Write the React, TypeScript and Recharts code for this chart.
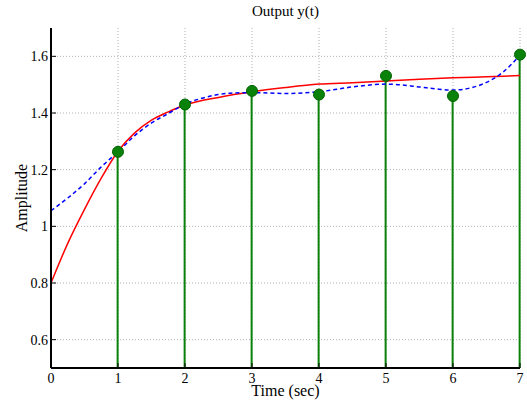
import React from 'react';
import {
  ComposedChart,
  Line,
  Bar,
  XAxis,
  YAxis,
  CartesianGrid,
  Label,
} from 'recharts';

// model output (red, solid)
const modelT = [0, 0.25, 0.5, 0.75, 1, 1.25, 1.5, 1.75, 2, 2.5, 3, 3.5, 4, 4.5, 5, 5.5, 6, 6.5, 7];
const modelY = [0.8, 0.94, 1.06, 1.17, 1.265, 1.33, 1.375, 1.404, 1.428, 1.455, 1.475, 1.49, 1.502, 1.507, 1.513, 1.519, 1.524, 1.528, 1.532];

// interpolated output (blue, dashed)
const interpT = [0, 0.25, 0.5, 0.75, 1, 1.25, 1.5, 1.75, 2, 2.25, 2.5, 2.75, 3, 3.5, 4, 4.5, 5, 5.5, 5.75, 6, 6.25, 6.5, 6.75, 7];
const interpY = [1.055, 1.1, 1.15, 1.21, 1.263, 1.32, 1.365, 1.398, 1.431, 1.452, 1.465, 1.471, 1.472, 1.469, 1.475, 1.492, 1.502, 1.492, 1.485, 1.481, 1.488, 1.508, 1.545, 1.604];

// samples (green stems)
const sampleT = [1, 2, 3, 4, 5, 6, 7];
const sampleY = [1.263, 1.43, 1.478, 1.465, 1.531, 1.46, 1.606];

const xTicks = [0, 1, 2, 3, 4, 5, 6, 7];
const yTicks = [0.6, 0.8, 1, 1.2, 1.4, 1.6];

type Row = { t: number; model?: number; interp?: number; sample?: number };

const buildRows = (): Row[] => {
  const map = new Map<number, Row>();
  const get = (t: number) => {
    if (!map.has(t)) map.set(t, { t });
    return map.get(t)!;
  };
  modelT.forEach((t, i) => (get(t).model = modelY[i]));
  interpT.forEach((t, i) => (get(t).interp = interpY[i]));
  sampleT.forEach((t, i) => (get(t).sample = sampleY[i]));
  return Array.from(map.values()).sort((a, b) => a.t - b.t);
};

const rows = buildRows();
const font = '"Liberation Serif", "DejaVu Serif", serif';
const tickStyle = { fontSize: 14, fontFamily: font, fill: '#000' };
const labelStyle = { fontSize: 16, fontFamily: font, fill: '#000' };

const App: React.FC = () => {
  return (
    <div style={{ position: 'absolute', left: 0, top: 0, width: 527, height: 402, background: '#fff' }}>
      <div
        style={{
          position: 'absolute',
          left: 51,
          top: 3,
          width: 469,
          textAlign: 'center',
          fontFamily: font,
          fontSize: 15,
        }}
      >
        Output y(t)
      </div>
      <ComposedChart width={527} height={402} data={rows} margin={{ top: 28, right: 7, left: 0, bottom: 0 }}>
        <CartesianGrid stroke="#b0b0b0" strokeDasharray="1 2" verticalValues={xTicks} horizontalValues={yTicks} />
        <XAxis
          dataKey="t"
          type="number"
          domain={[0, 7]}
          ticks={xTicks}
          height={34}
          tickSize={-5}
          tickMargin={10}
          tick={tickStyle}
          stroke="#000"
          axisLine={{ stroke: '#000', strokeWidth: 2 }}
        >
          <Label value="Time (sec)" position="insideBottom" offset={6} style={labelStyle} />
        </XAxis>
        <XAxis
          xAxisId="top"
          dataKey="t"
          type="number"
          orientation="top"
          domain={[0, 7]}
          ticks={xTicks}
          height={0}
          tickSize={-5}
          tickFormatter={() => ''}
          stroke="#000"
          axisLine={{ stroke: '#000', strokeWidth: 1.5 }}
        />
        <YAxis
          type="number"
          domain={[0.5, 1.7]}
          ticks={yTicks}
          width={51}
          tickSize={-5}
          tickMargin={8}
          tick={tickStyle}
          stroke="#000"
          axisLine={{ stroke: '#000', strokeWidth: 2 }}
        >
          <Label
            value="Amplitude"
            position="insideLeft"
            angle={-90}
            offset={21}
            style={{ ...labelStyle, textAnchor: 'middle' }}
          />
        </YAxis>
        <YAxis
          yAxisId="right"
          orientation="right"
          type="number"
          domain={[0.5, 1.7]}
          ticks={yTicks}
          width={0}
          tickSize={-5}
          tickFormatter={() => ''}
          stroke="#000"
          axisLine={{ stroke: '#000', strokeWidth: 1.5 }}
        />
        <Bar dataKey="sample" fill="#0a820a" barSize={2} isAnimationActive={false} />
        <Line
          type="monotone"
          dataKey="model"
          stroke="#ff0000"
          strokeWidth={1.5}
          dot={false}
          connectNulls
          isAnimationActive={false}
        />
        <Line
          type="monotone"
          dataKey="interp"
          stroke="#0000ff"
          strokeWidth={1.5}
          strokeDasharray="4 3"
          dot={false}
          connectNulls
          isAnimationActive={false}
        />
        <Line
          dataKey="sample"
          stroke="none"
          dot={{ r: 5.5, fill: '#0a820a', stroke: '#006400', strokeWidth: 1 }}
          activeDot={false}
          connectNulls
          isAnimationActive={false}
        />
      </ComposedChart>
    </div>
  );
};

export default App;
